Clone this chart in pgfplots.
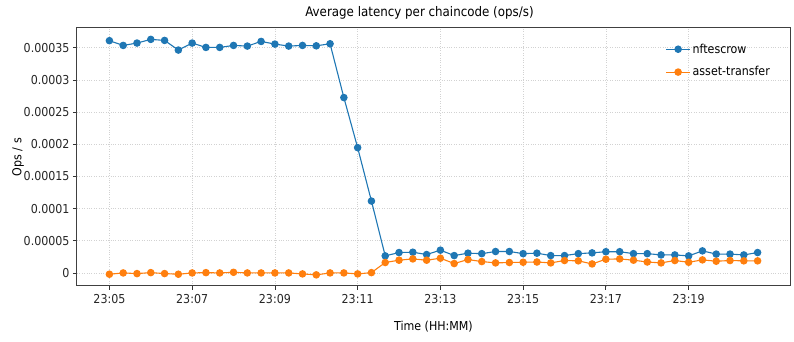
\documentclass[border=0pt]{standalone}
\usepackage{pgfplots}
\pgfplotsset{compat=1.18}
\usepackage{fontspec}
\setmainfont{DejaVu Sans Condensed}
\definecolor{mblue}{HTML}{1F77B4}
\definecolor{morange}{HTML}{FF7F0E}
\begin{document}
\begin{tikzpicture}
\begin{axis}[
  scale only axis,
  width=713pt, height=258pt,
  xmin=-2.35, xmax=49.35,
  ymin=-0.0000203, ymax=0.0003807,
  scaled y ticks=false,
  xtick={0,6,12,18,24,30,36,42},
  xticklabels={23:05,23:07,23:09,23:11,23:13,23:15,23:17,23:19},
  ytick={0,0.00005,0.0001,0.00015,0.0002,0.00025,0.0003,0.00035},
  yticklabels={0,0.00005,0.0001,0.00015,0.0002,0.00025,0.0003,0.00035},
  /pgf/number format/assume math mode=true,
  tick align=outside, xtick pos=left, ytick pos=left,
  major tick length=4pt,
  every tick/.style={black!80, line width=0.8pt},
  tick label style={font=\fontsize{12.3}{14}\selectfont, text=black!85},
  xticklabel style={yshift=-1pt},
  grid=major,
  major grid style={gray!35, dotted, line width=0.6pt},
  axis line style={black!75, line width=1pt},
  title={Average latency per chaincode (ops/s)},
  title style={at={([xshift=-14pt]axis description cs:0.5,1)}, anchor=center, yshift=9pt, font=\fontsize{13.2}{15}\selectfont},
  xlabel={Time (HH:MM)},
  xlabel style={font=\fontsize{12.3}{14}\selectfont, at={([yshift=-41pt]axis description cs:0.5,0)}, anchor=center},
  ylabel={Ops / s},
  ylabel style={font=\fontsize{12.3}{14}\selectfont, at={([xshift=-59pt]axis description cs:0,0.5)}, anchor=center},
  legend style={draw=none, fill=none, at={(0.979,0.955)}, anchor=north east,
    font=\fontsize{12.3}{14}\selectfont, row sep=8pt},
  legend cell align=left,
  legend image code/.code={\draw[#1] (0pt,0pt) -- (24pt,0pt); \draw[#1, only marks] plot coordinates {(12pt,0pt)};},
]
\addplot[color=mblue, line width=1.1pt, mark=*, mark size=3.2pt] table {
0 0.000361
1 0.0003536
2 0.0003573
3 0.0003630
4 0.0003614
5 0.0003464
6 0.0003573
7 0.0003505
8 0.0003505
9 0.0003536
10 0.0003526
11 0.0003598
12 0.0003557
13 0.0003526
14 0.0003536
15 0.000353
16 0.0003562
17 0.0002726
18 0.0001947
19 0.0001117
20 0.0000265
21 0.0000317
22 0.0000322
23 0.0000286
24 0.0000354
25 0.000027
26 0.0000307
27 0.00003
28 0.0000333
29 0.0000333
30 0.00003
31 0.0000307
32 0.000027
33 0.000027
34 0.00003
35 0.0000312
36 0.000033
37 0.000033
38 0.00003
39 0.00003
40 0.000028
41 0.000028
42 0.0000265
43 0.0000343
44 0.0000293
45 0.0000293
46 0.000028
47 0.0000317
};
\addlegendentry{nftescrow}
\addplot[color=morange, line width=1.1pt, mark=*, mark size=3.2pt] table {
0 -0.000002
1 0.0
2 -0.000001
3 0.0000005
4 -0.000001
5 -0.000002
6 0.0
7 0.0000005
8 0.0
9 0.000001
10 0.0
11 0.0
12 0.0
13 0.0
14 -0.0000015
15 -0.000003
16 0.0
17 0.0
18 -0.0000015
19 0.0000005
20 0.0000162
21 0.0000198
22 0.0000218
23 0.0000198
24 0.0000229
25 0.0000146
26 0.0000208
27 0.0000177
28 0.0000156
29 0.0000162
30 0.0000166
31 0.000017
32 0.0000156
33 0.0000193
34 0.0000188
35 0.000014
36 0.0000213
37 0.0000218
38 0.0000198
39 0.000017
40 0.0000156
41 0.0000193
42 0.0000166
43 0.0000203
44 0.0000182
45 0.0000193
46 0.0000188
47 0.0000188
};
\addlegendentry{asset-transfer}
\end{axis}
\pgfresetboundingbox
\path[use as bounding box] ([xshift=-77pt,yshift=-56pt]current axis.south west) rectangle ([xshift=4pt,yshift=28pt]current axis.north east);
\end{tikzpicture}
\end{document}
